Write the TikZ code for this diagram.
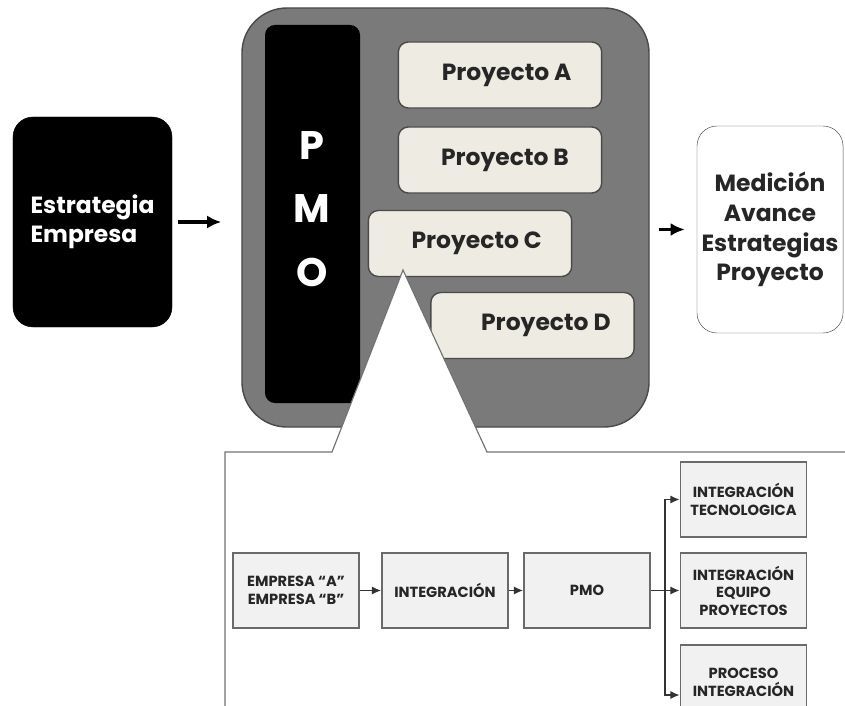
\documentclass[tikz,border=0pt]{standalone}
\usepackage{fontspec}
\setmainfont{Poppins}
\usepackage{tikz}
\usetikzlibrary{arrows.meta, positioning, calc}

\definecolor{pmogray}{HTML}{7A7A7A}
\definecolor{pmoedge}{HTML}{4A4A4A}
\definecolor{proyfill}{HTML}{EEEBE2}
\definecolor{ifill}{HTML}{F1F1F1}
\definecolor{iedge}{HTML}{6A6A6A}

\begin{document}
\begin{tikzpicture}[x=0.03cm, y=-0.03cm,
  dnode/.style={draw=black, fill=black, rounded corners=0.6cm, text=white, align=left,
    minimum width=4.77cm, minimum height=6.3cm, font=\bfseries\fontsize{20}{25}\selectfont},
  pnode/.style={draw=pmoedge, line width=1.2pt, fill=proyfill, rounded corners=0.3cm,
    minimum width=6.1cm, minimum height=1.98cm, text=black!85, font=\bfseries\fontsize{20}{24}\selectfont},
  mnode/.style={draw=pmoedge, fill=white, rounded corners=0.6cm, align=center, text=black!85,
    minimum width=4.38cm, minimum height=6.21cm, font=\bfseries\fontsize{20}{25.5}\selectfont},
  inode/.style={draw=iedge, line width=1.4pt, fill=ifill, align=center, text=black!85,
    minimum width=3.78cm, minimum height=2.25cm, font=\bfseries\fontsize{12.5}{15}\selectfont},
  barr/.style={-{Latex[length=12pt, width=11pt]}, line width=3pt},
  iarr/.style={-{Latex[length=8pt, width=7pt]}, line width=1.3pt, draw=black!80}
]
\useasboundingbox (0,0) rectangle (845,706);
\clip (0,0) rectangle (845,706);

% upper part
\node[dnode] (estr) at (92.5,222) {Estrategia\\Empresa};
\node[draw=pmoedge, line width=1.2pt, fill=pmogray, rounded corners=1.35cm,
  minimum width=12.21cm, minimum height=12.57cm] (pmobox) at (445.5,217.5) {};
\node[fill=black, rounded corners=0.3cm, minimum width=2.85cm, minimum height=11.34cm] (pmobar) at (312.5,214) {};
\node[text=white, align=center, font=\bfseries\fontsize{34}{54}\selectfont] (pmolbl) at (312,209) {P\\M\\O};

\node[pnode] (proyA) at (500,75) {\hspace*{0.4cm}Proyecto A};
\node[pnode] (proyB) at (500,160) {\hspace*{0.3cm}Proyecto B};
\node[pnode] (proyC) at (470,243.5) {\hspace*{0.4cm}Proyecto C};
\node[pnode] (proyD) at (532.5,325.5) {\hspace*{0.8cm}Proyecto D};

\node[mnode] (med) at (770,229.5) {Medición\\Avance\\Estrategias\\Proyecto};

\draw[barr, shorten <=0.18cm, shorten >=0.6cm] (estr.east) -- (estr.east -| pmobox.west);
\draw[barr, shorten <=0.27cm, shorten >=0.36cm] (pmobox.east |- med.west) -- (med.west);

% zoom of Proyecto C
\draw[draw=black!55, line width=1pt, fill=white]
  (225,720) -- (225,452) -- (332,452) -- (403,270) -- (487,452) -- (860,452) -- (860,720) -- cycle;

\node[inode] (emp) at (296,590.5) {EMPRESA “A”\\EMPRESA “B”};
\node[inode] (integ) at (445,590.5) {INTEGRACIÓN};
\node[inode] (pmoin) at (587,590.5) {PMO};
\node[inode] (tecno) at (743.5,499.5) {INTEGRACIÓN\\TECNOLOGICA};
\node[inode] (equipo) at (743.5,590.5) {INTEGRACIÓN\\EQUIPO\\PROYECTOS};
\node[inode] (proceso) at (743.5,682.5) {PROCESO\\INTEGRACIÓN};

\draw[iarr] (emp) -- (integ);
\draw[iarr] (integ) -- (pmoin);
\draw[iarr] (pmoin) -- (equipo);
\coordinate (split) at (665,590.5);
\draw[iarr] (split) |- (tecno.west);
\draw[iarr] (split) |- ([yshift=-0.375cm]proceso.west);
\end{tikzpicture}
\end{document}
